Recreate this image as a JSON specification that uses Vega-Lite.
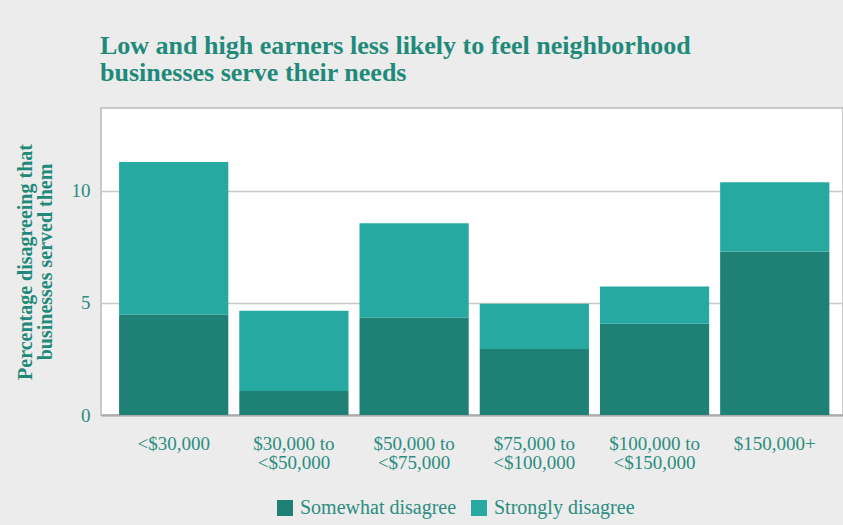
{
  "$schema": "https://vega.github.io/schema/vega-lite/v6.json",
  "autosize": {"type": "none"},
  "padding": {"left": 101, "top": 108, "right": 0, "bottom": 110},
  "width": 742,
  "height": 307,
  "background": "#ececec",
  "title": {
    "text": ["Low and high earners less likely to feel neighborhood", "businesses serve their needs"],
    "anchor": "start",
    "frame": "group",
    "font": "Liberation Serif, DejaVu Serif, serif",
    "fontSize": 26,
    "fontWeight": "bold",
    "color": "#1f8a7a",
    "lineHeight": 27,
    "baseline": "alphabetic",
    "offset": 1,
    "dx": -1
  },
  "data": {
    "values": [
      {"income": "<$30,000", "type": "Somewhat disagree", "value": 4.47},
      {"income": "<$30,000", "type": "Strongly disagree", "value": 6.82},
      {"income": "$30,000 to <$50,000", "type": "Somewhat disagree", "value": 1.07},
      {"income": "$30,000 to <$50,000", "type": "Strongly disagree", "value": 3.58},
      {"income": "$50,000 to <$75,000", "type": "Somewhat disagree", "value": 4.34},
      {"income": "$50,000 to <$75,000", "type": "Strongly disagree", "value": 4.22},
      {"income": "$75,000 to <$100,000", "type": "Somewhat disagree", "value": 2.95},
      {"income": "$75,000 to <$100,000", "type": "Strongly disagree", "value": 2.02},
      {"income": "$100,000 to <$150,000", "type": "Somewhat disagree", "value": 4.07},
      {"income": "$100,000 to <$150,000", "type": "Strongly disagree", "value": 1.66},
      {"income": "$150,000+", "type": "Somewhat disagree", "value": 7.30},
      {"income": "$150,000+", "type": "Strongly disagree", "value": 3.09}
    ]
  },
  "mark": {"type": "bar"},
  "encoding": {
    "x": {
      "field": "income",
      "type": "nominal",
      "sort": null,
      "scale": {"paddingInner": 0.0915, "paddingOuter": 0.132, "align": 0.57},
      "axis": {
        "title": null,
        "labelAngle": 0,
        "labelExpr": "indexof(datum.label,' to ')>0 ? [slice(datum.label,0,indexof(datum.label,' to ')+3), slice(datum.label,indexof(datum.label,' to ')+4)] : datum.label",
        "labelFont": "Liberation Serif, DejaVu Serif, serif",
        "labelFontSize": 19,
        "labelColor": "#2b8d80",
        "labelLineHeight": 19,
        "labelPadding": 19,
        "labelBaseline": "top",
        "ticks": false,
        "domain": true,
        "domainColor": "#aaaaaa",
        "domainWidth": 2,
        "grid": false
      }
    },
    "y": {
      "field": "value",
      "type": "quantitative",
      "stack": "zero",
      "scale": {"domain": [0, 13.7], "nice": false},
      "axis": {
        "title": ["Percentage disagreeing that", "businesses served them"],
        "titleFont": "Liberation Serif, DejaVu Serif, serif",
        "titleFontSize": 20,
        "titleFontWeight": "bold",
        "titleColor": "#1f8a7a",
        "titleLineHeight": 20,
        "titlePadding": 16,
        "values": [0, 5, 10],
        "labelFont": "Liberation Serif, DejaVu Serif, serif",
        "labelFontSize": 19,
        "labelColor": "#2b8d80",
        "labelPadding": 11,
        "ticks": false,
        "domain": false,
        "grid": true,
        "gridColor": "#c8c8c8",
        "gridWidth": 1.5
      }
    },
    "color": {
      "field": "type",
      "type": "nominal",
      "scale": {"domain": ["Somewhat disagree", "Strongly disagree"], "range": ["#1f8075", "#26a9a0"]},
      "legend": {
        "title": null,
        "orient": "none",
        "legendX": 174,
        "legendY": 390,
        "direction": "horizontal",
        "symbolType": "square",
        "symbolSize": 256,
        "symbolStrokeWidth": 0,
        "symbolOpacity": 1,
        "labelFont": "Liberation Serif, DejaVu Serif, serif",
        "labelFontSize": 20,
        "labelColor": "#2b8d80",
        "labelOffset": 5,
        "columnPadding": 12
      }
    },
    "order": {"field": "type", "sort": "ascending"}
  },
  "config": {
    "view": {"stroke": "#bbbbbb", "strokeWidth": 1.5, "fill": "white"}
  }
}
